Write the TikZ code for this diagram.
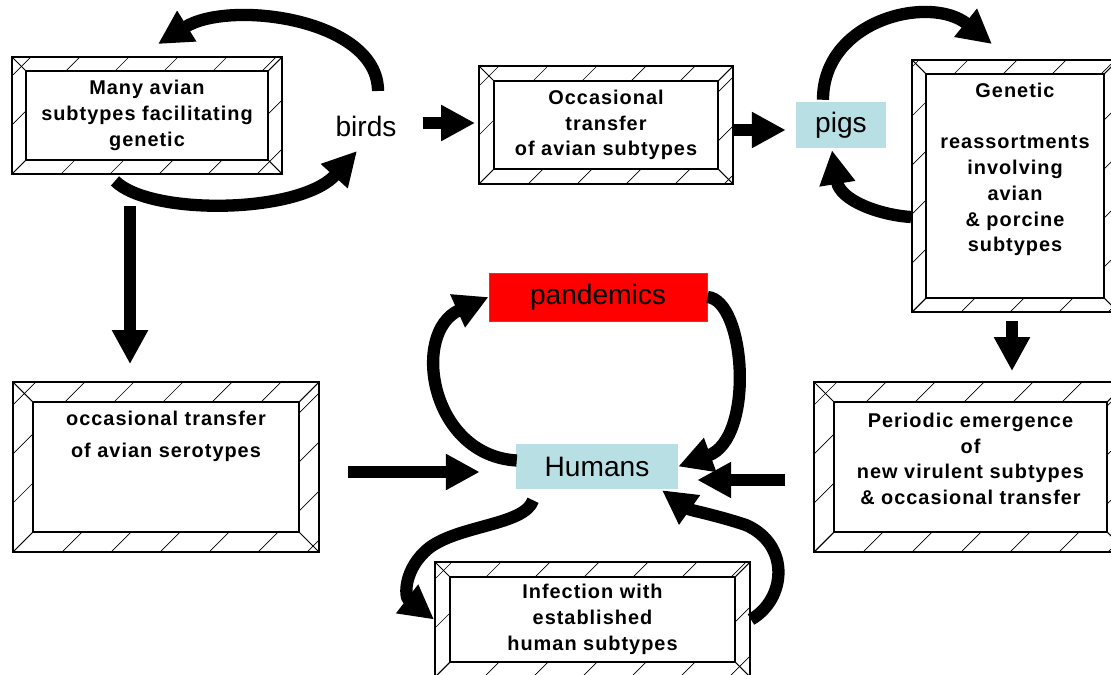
\documentclass[tikz,border=0pt]{standalone}
\usepackage{fontspec}
\setmainfont{Liberation Sans}
\newfontfamily\boxfont[LetterSpace=5]{Liberation Sans}
\usetikzlibrary{arrows.meta,calc}

\definecolor{hostblue}{RGB}{184,224,228}
\definecolor{pandred}{RGB}{255,0,0}
\definecolor{pandedge}{RGB}{204,68,0}

\tikzset{
  bevel/.style={draw, line width=1.6pt, align=center,
    font=\boxfont\bfseries\fontsize{17}{22}\selectfont,
    path picture={
      \foreach \k in {-7,...,8}
        \draw[line width=0.6pt] ([xshift=\k*1.47cm]path picture bounding box.south west) -- ++(10cm,10cm);
      \draw[line width=1.6pt, fill=white] ([shift={(#1,-#1)}]path picture bounding box.north west)
        rectangle ([shift={(-#1,#1)}]path picture bounding box.south east);
      \draw[line width=0.9pt] (path picture bounding box.north west) -- ++(#1,-#1)
        (path picture bounding box.north east) -- ++(-#1,-#1)
        (path picture bounding box.south west) -- ++(#1,#1)
        (path picture bounding box.south east) -- ++(-#1,#1);
    }},
  host/.style={fill=hostblue, inner sep=0pt, font=\fontsize{24}{28}\selectfont},
  fatarrow/.style={line width=10.5pt, -{Triangle[length=29pt,width=29pt]}},
}

\begin{document}
\begin{tikzpicture}[x=0.03cm,y=-0.03cm]
  \useasboundingbox (0,0) rectangle (1111,675);

  \begin{scope}[every node/.style={bevel=0.42cm}]
    \node[minimum width=8.1cm, minimum height=3.51cm] (many) at (147,115.5)
      {Many avian\\subtypes facilitating\\genetic};
    \node[bevel=0.45cm, minimum width=7.62cm, minimum height=3.54cm] (transfer) at (606,125)
      {Occasional\\transfer\\of avian subtypes};
    \node[minimum width=6.18cm, minimum height=7.56cm] (genetic) at (1015,186)
      {Genetic\\[22pt]reassortments\\involving\\avian\\\& porcine\\subtypes\\[10pt]\mbox{}};
    \node[bevel=0.6cm, minimum width=9.18cm, minimum height=5.1cm,
      font=\boxfont\bfseries\fontsize{17}{28}\selectfont] (sero) at (166,467)
      {occasional transfer\\of avian serotypes\\\mbox{}\\\mbox{}};
    \node[bevel=0.6cm, minimum width=9.39cm, minimum height=5.1cm] (periodic) at (970.5,467)
      {Periodic emergence\\of\\new virulent subtypes\\\& occasional transfer\\[-8pt]\mbox{}};
    \node[bevel=0.45cm, minimum width=9.45cm, minimum height=3.45cm] (infect) at (592.5,619.5)
      {Infection with\\established\\human subtypes};
  \end{scope}

  \node[font=\fontsize{24}{28}\selectfont] (birds) at (366,126) {birds};
  \node[host, minimum width=2.7cm, minimum height=1.38cm] (pigs) at (841,125) {pigs};
  \node[host, minimum width=4.86cm, minimum height=1.35cm] (humans) at (597,466.5) {Humans};
  \node[fill=pandred, draw=pandedge, line width=0.8pt, inner sep=0pt,
    minimum width=6.54cm, minimum height=1.44cm,
    font=\fontsize{24}{28}\selectfont] (pand) at (598,297) {pandemics};

  % birds
  \draw[fatarrow] ($(birds)+(12,-35)$) .. controls +(0,-72) and +(72,-45) .. ($(many.north)+(11,-12)$);
  \draw[fatarrow] ($(many.south)+(-32,6)$) .. controls +(35,35) and +(-57,63) .. ($(birds)+(-9,25)$);
  \draw[fatarrow] ($(birds.east)+(22,-3)$) -- ($(transfer.west)+(-3,-2)$);
  \draw[fatarrow] ($(many.south)+(-17,31)$) -- ($(sero.north)+(-36,-17)$);

  % pigs
  \draw[fatarrow] ($(transfer.east)+(0,5)$) -- ($(pigs.west)+(-10,5)$);
  \draw[fatarrow] ($(pigs.north)+(-18,-2)$) .. controls +(0,-80) and +(-62,-50) .. ($(genetic.north)+(-23,-15)$);
  \draw[fatarrow] ($(genetic.west)+(0,31)$) .. controls +(-32,-2) and +(8,50) .. ($(pigs.south)+(-9,2)$);
  \draw[fatarrow] ($(genetic.south)+(-3,8)$) -- ($(periodic.north)+(41.5,-10)$);

  % humans
  \draw[fatarrow] ($(sero.east)+(28,5)$) -- ($(humans.west)+(-36,5.5)$);
  \draw[fatarrow] ($(periodic.west)+(-28,13)$) -- ($(humans.east)+(19,13.5)$);
  \draw[fatarrow] ($(humans.west)+(1,-6)$) .. controls +(-87,-5) and +(-78,35) .. (pand.west);
  \draw[fatarrow] (pand.east) .. controls +(38,3) and +(77,-28) .. (humans.east);
  \draw[fatarrow] ($(humans.south)+(-64,11)$) .. controls +(-8,25) and +(30,-23) .. ($(infect.west)+(-5,-71.5)$)
    .. controls +(-25,20) and +(-30,-23) .. (infect.west);
  \draw[fatarrow] (infect.east) .. controls +(35,-20) and +(45,20) .. ($(infect.east)+(-5,-94.5)$)
    .. controls +(-30,-10) and +(28,20) .. ($(humans.south)+(65,1)$);
\end{tikzpicture}
\end{document}
